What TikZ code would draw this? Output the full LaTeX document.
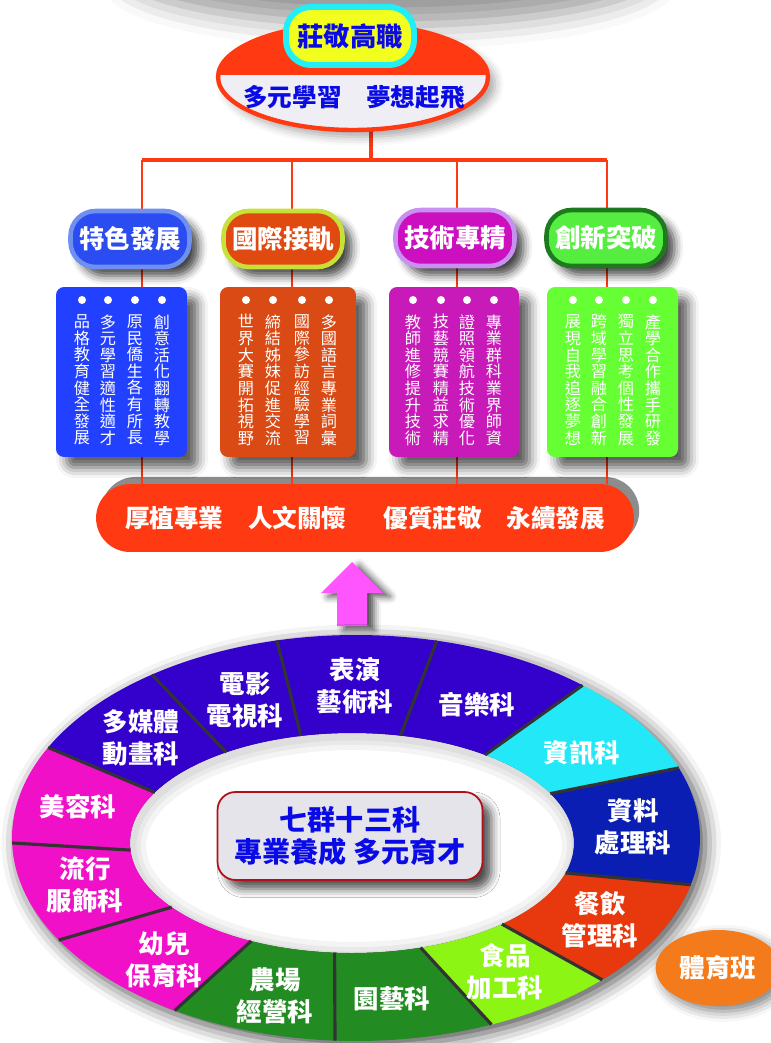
\documentclass[tikz,border=0pt]{standalone}
\usepackage{fontspec}
\setmainfont{Noto Sans CJK TC}
\usetikzlibrary{shapes.geometric,shadows,shadows.blur}

\definecolor{topred}{HTML}{FF3A12}
\definecolor{paleback}{HTML}{EEEEF4}
\definecolor{titleblue}{HTML}{0A0AE6}
\definecolor{pillyellow}{HTML}{F2FF1E}
\definecolor{pillcyan}{HTML}{22EEF5}
\definecolor{blueA}{HTML}{2A4CF0}
\definecolor{blueB}{HTML}{7090F0}
\definecolor{orangeA}{HTML}{E04A10}
\definecolor{orangeB}{HTML}{C8E03A}
\definecolor{magA}{HTML}{CC10C0}
\definecolor{magB}{HTML}{C890F0}
\definecolor{greenA}{HTML}{55EE40}
\definecolor{greenB}{HTML}{1E7A1E}
\definecolor{boxblue}{HTML}{2240FF}
\definecolor{boxorange}{HTML}{D94A14}
\definecolor{boxmag}{HTML}{C81AB8}
\definecolor{boxgreen}{HTML}{66FF33}
\definecolor{ringpurple}{HTML}{3300CC}
\definecolor{ringcyan}{HTML}{22E8F8}
\definecolor{ringnavy}{HTML}{0A1EB4}
\definecolor{ringred}{HTML}{E8380E}
\definecolor{ringlime}{HTML}{8CF514}
\definecolor{ringgreen}{HTML}{228B22}
\definecolor{ringpink}{HTML}{F010C8}
\definecolor{arrowpink}{HTML}{FF55FF}
\definecolor{sportorange}{HTML}{F47B1C}
\definecolor{coreback}{HTML}{E4E4EA}
\definecolor{coreborder}{HTML}{B0101A}

\tikzset{
  conn/.style={draw=topred, line width=1.2pt},
  pill/.style={draw, rounded corners=0.5cm, minimum width=2.38cm, minimum height=1.12cm,
    line width=2.6pt, text=white, font=\fontsize{14.5}{16}\selectfont\bfseries,
    blur shadow={shadow xshift=5pt, shadow yshift=-5pt, shadow blur radius=5pt, shadow opacity=75}},
  infobox/.style={rounded corners=0.16cm, minimum width=2.62cm, minimum height=3.4cm,
    blur shadow={shadow xshift=6pt, shadow yshift=-6pt, shadow blur radius=6pt, shadow opacity=65}},
  col/.style={text=white, align=center, inner sep=0pt, font=\fontsize{9.2}{9.45}\selectfont},
  dept/.style={text=white, align=center, inner sep=0pt, font=\fontsize{14.5}{18.2}\selectfont\bfseries},
  sep/.style={draw=black!80, line width=1.8pt},
}

\begin{document}
\begin{tikzpicture}[x=0.02cm,y=-0.02cm]
\useasboundingbox (0,0) rectangle (770,1043);

% shadow band at the top
\path[blur shadow={shadow xshift=0pt, shadow yshift=0pt, shadow blur radius=14pt, shadow opacity=40}]
  (390,-30) ellipse [x radius=5.4cm, y radius=1.1cm];

% tree lines
\coordinate (hub) at (371,160);
\coordinate (d1) at (142,160);
\coordinate (d2) at (292,160);
\coordinate (d3) at (457,160);
\coordinate (d4) at (607,160);

\node[fill=topred, rounded corners=0.68cm, minimum width=10.76cm, minimum height=1.36cm,
  text=white, font=\fontsize{14}{16}\selectfont\bfseries,
  general shadow={shadow xshift=3pt, shadow yshift=4pt, fill=black!45}] (bar) at (365,518)
  {厚植專業\hspace{1em}人文關懷\hspace{1.5em}優質莊敬\hspace{1em}永續發展};

\draw[conn, line width=2.2pt] (hub |- 0,128) -- (hub);
\draw[conn, line width=2.2pt] (d1) -- (d4);
\draw[conn] (d1) -- (d1 |- bar.north);
\draw[conn] (d2) -- (d2 |- bar.north);
\draw[conn] (d3) -- (d3 |- bar.north);
\draw[conn] (d4) -- (d4 |- bar.north);

% top
\node[ellipse, draw=topred, line width=2.5pt, fill=paleback, minimum width=5.4cm, minimum height=2.12cm,
  path picture={\fill[topred] (path picture bounding box.north west) rectangle ([yshift=0.04cm]path picture bounding box.east);},
  blur shadow={shadow xshift=4pt, shadow yshift=-4pt, shadow blur radius=5pt, shadow opacity=35}]
  (motto) at (353,77) {};
\node[text=titleblue, font=\fontsize{14}{16}\selectfont\bfseries] (mottotext) at (354,97) {多元學習　夢想起飛};
\node[draw=pillcyan, fill=pillyellow, line width=3.4pt, rounded corners=0.5cm, minimum width=2.56cm,
  minimum height=1.16cm, text=titleblue, font=\fontsize{15}{17}\selectfont\bfseries] (school) at (350,36) {莊敬高職};

% four pillars
\node[pill, fill=blueA, draw=blueB] (tese) at (130,239) {特色發展};
\node[pill, fill=orangeA, draw=orangeB] (guoji) at (283,239) {國際接軌};
\node[pill, fill=magA, draw=magB] (jishu) at (455,238) {技術專精};
\node[pill, fill=greenA, draw=greenB] (chuangxin) at (606,238) {創新突破};

\node[infobox, fill=boxblue] (boxa) at (121.5,372) {};
\node[infobox, fill=boxorange, minimum width=2.72cm] (boxb) at (288,372) {};
\node[infobox, fill=boxmag, minimum width=2.6cm] (boxc) at (454,372) {};
\node[infobox, fill=boxgreen] (boxd) at (612.5,372) {};

\foreach \cx in {82,108,135,162,246,273,302,329,413,441,467,494,573,599,626,653}
  \fill[white] (\cx,300) circle[radius=0.08cm];

\node[col] (a1) at (82,380) {品\\格\\教\\育\\健\\全\\發\\展};
\node[col] (a2) at (108,380) {多\\元\\學\\習\\適\\性\\適\\才};
\node[col] (a3) at (135,380) {原\\民\\僑\\生\\各\\有\\所\\長};
\node[col] (a4) at (162,380) {創\\意\\活\\化\\翻\\轉\\教\\學};
\node[col] (b1) at (246,380) {世\\界\\大\\賽\\開\\拓\\視\\野};
\node[col] (b2) at (273,380) {締\\結\\姊\\妹\\促\\進\\交\\流};
\node[col] (b3) at (302,380) {國\\際\\參\\訪\\經\\驗\\學\\習};
\node[col] (b4) at (329,380) {多\\國\\語\\言\\專\\業\\詞\\彙};
\node[col] (c1) at (413,380) {教\\師\\進\\修\\提\\升\\技\\術};
\node[col] (c2) at (441,380) {技\\藝\\競\\賽\\精\\益\\求\\精};
\node[col] (c3) at (467,380) {證\\照\\領\\航\\技\\術\\優\\化};
\node[col] (c4) at (494,380) {專\\業\\群\\科\\業\\界\\師\\資};
\node[col] (e1) at (573,380) {展\\現\\自\\我\\追\\逐\\夢\\想};
\node[col] (e2) at (599,380) {跨\\域\\學\\習\\融\\合\\創\\新};
\node[col] (e3) at (626,380) {獨\\立\\思\\考\\個\\性\\發\\展};
\node[col] (e4) at (653,380) {產\\學\\合\\作\\攜\\手\\研\\發};

% arrow up
\fill[arrowpink, blur shadow={shadow xshift=4pt, shadow yshift=-2pt, shadow blur radius=4pt, shadow opacity=70}]
  (352,562) -- (383,593) -- (367,593) -- (367,626) -- (337,626) -- (337,593) -- (321,593) -- cycle;

% ring
\path[blur shadow={shadow xshift=3pt, shadow yshift=-3pt, shadow blur radius=9pt, shadow opacity=70}]
  (356,838) ellipse [x radius=6.88cm, y radius=4.06cm];
\fill[white] (352,843) ellipse [x radius=4.44cm, y radius=2.2cm];
\begin{scope}
\clip (352,843) ellipse [x radius=4.44cm, y radius=2.2cm];
\foreach \w in {16,10,5}
  \draw[black, opacity=0.045, line width=\w pt] (354,846) ellipse [x radius=4.44cm, y radius=2.2cm];
\end{scope}

\foreach \ta/\tb/\ua/\ub/\col in {13.3/44.3/15.8/47.5/ringred, 44.3/66.8/47.5/72/ringlime,
    66.8/93.5/72/94.5/ringgreen, 93.5/121.8/94.5/117/ringgreen, 121.8/149.8/117/144.3/ringpink,
    149.8/178.6/144.3/176.3/ringpink, 178.6/206.5/176.3/207.4/ringpink, 206.5/233.6/207.4/235.5/ringpurple,
    233.6/256.7/235.5/256.7/ringpurple, 256.7/283.6/256.7/282.6/ringpurple, 283.6/311.2/282.6/306.8/ringpurple,
    311.2/339.8/306.8/333.3/ringcyan, 339.8/373.3/333.3/375.8/ringnavy}
  \fill[\col] plot[domain=\ta:\tb, samples=24] ({356+344*cos(\x)},{838+203*sin(\x)})
    -- plot[domain=\ub:\ua, samples=24] ({352+222*cos(\x)},{843+110*sin(\x)}) -- cycle;

\foreach \ta/\ua in {13.3/15.8, 44.3/47.5, 66.8/72, 93.5/94.5, 121.8/117, 149.8/144.3, 178.6/176.3,
    206.5/207.4, 233.6/235.5, 256.7/256.7, 283.6/282.6, 311.2/306.8, 339.8/333.3}
  \draw[sep] ({356+344*cos(\ta)},{838+203*sin(\ta)}) -- ({352+222*cos(\ua)},{843+110*sin(\ua)});

\node[dept] (meirong) at (78,807) {美容科};
\node[dept] (duomeiti) at (141,738) {多媒體\\動畫科};
\node[dept] (dianying) at (245,700) {電影\\電視科};
\node[dept] (biaoyan) at (355,686) {表演\\藝術科};
\node[dept] (yinyue) at (477,705) {音樂科};
\node[dept] (zixun) at (582,753) {資訊科};
\node[dept] (ziliao) at (633,827) {資料\\處理科};
\node[dept] (canyin) at (600,920) {餐飲\\管理科};
\node[dept] (shipin) at (505,972) {食品\\加工科};
\node[dept] (yuanyi) at (392,999) {園藝科};
\node[dept] (nongchang) at (275,996) {農場\\經營科};
\node[dept] (youer) at (164,960) {幼兒\\保育科};
\node[dept] (liuxing) at (85,885) {流行\\服飾科};

\node[draw=coreborder, line width=1pt, fill=coreback, rounded corners=0.36cm, minimum width=5.3cm,
  minimum height=1.76cm, text=titleblue, align=center, font=\fontsize{16}{18.2}\selectfont\bfseries,
  blur shadow={shadow xshift=5pt, shadow yshift=-5pt, shadow opacity=70, shadow blur radius=5pt}]
  (core) at (350,836) {七群十三科\\專業養成 多元育才};

\node[ellipse, fill=sportorange, minimum width=2.2cm, minimum height=1.52cm, text=white,
  font=\fontsize{14.5}{16}\selectfont\bfseries,
  blur shadow={shadow xshift=3pt, shadow yshift=-3pt, shadow blur radius=6pt, shadow opacity=50}]
  (sport) at (718,968) {體育班};
\end{tikzpicture}
\end{document}
